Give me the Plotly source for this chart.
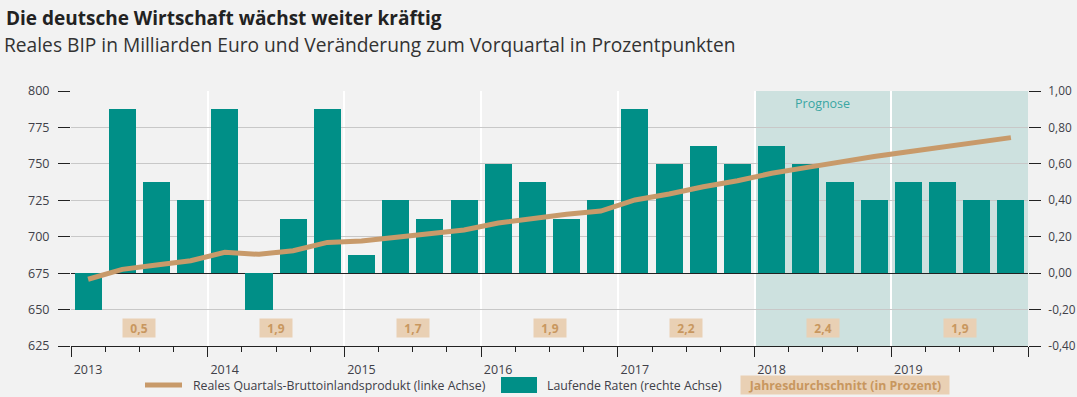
import plotly.graph_objects as go

years = [2013, 2014, 2015, 2016, 2017, 2018, 2019]
quarters = [y + (q - 0.5) / 4 for y in years for q in range(1, 5)]

# Laufende Raten (Veränderung zum Vorquartal, rechte Achse)
rates = [-0.2, 0.9, 0.5, 0.4,
         0.9, -0.2, 0.3, 0.9,
         0.1, 0.4, 0.3, 0.4,
         0.6, 0.5, 0.3, 0.4,
         0.9, 0.6, 0.7, 0.6,
         0.7, 0.6, 0.5, 0.4,
         0.5, 0.5, 0.4, 0.4]

# Reales Quartals-BIP (linke Achse)
gdp = [670.8, 677.6, 680.6, 683.5,
       689.3, 687.9, 690.4, 696.1,
       697.0, 699.3, 701.6, 704.6,
       709.4, 712.8, 715.4, 717.6,
       725.2, 729.3, 734.3, 738.4,
       743.5, 747.4, 751.5, 755.0,
       758.3, 761.6, 764.8, 768.0]

annual_avg = ["0,5", "1,9", "1,7", "1,9", "2,2", "2,4", "1,9"]

left_ticks = [625, 650, 675, 700, 725, 750, 775, 800]
right_ticks = [-0.4, -0.2, 0.0, 0.2, 0.4, 0.6, 0.8, 1.0]
right_labels = ["-0,40", "-0,20", "0,00", "0,20", "0,40", "0,60", "0,80", "1,00"]

TEAL = "#008f87"
TAN = "#c89a6a"
BOXBG = "#e9d0b4"
TXT = "#404048"
FONT = "Open Sans"

fig = go.Figure()

fig.add_trace(go.Bar(x=quarters, y=rates, yaxis="y", marker=dict(color=TEAL, line=dict(width=0)),
                     width=0.198, showlegend=False, hoverinfo="skip"))
fig.add_trace(go.Scatter(x=quarters, y=gdp, yaxis="y2", mode="lines",
                         line=dict(color=TAN, width=5, shape="linear"),
                         showlegend=False, hoverinfo="skip"))

# Forecast shading
fig.add_shape(type="rect", xref="x", yref="paper", x0=2018, x1=2020, y0=0, y1=1,
              fillcolor="#cde1df", line=dict(width=0), layer="below")
fig.add_annotation(x=2018.5, xref="x", y=1.0, yref="paper", yanchor="top", yshift=-2,
                   text="Prognose", showarrow=False, font=dict(family=FONT, size=12.5, color="#3aa6a3"))

# Annual averages
for yr, val in zip(years, annual_avg):
    fig.add_annotation(x=yr + 0.5, xref="x", y=-0.3, yref="y", text="<b>%s</b>" % val,
                       showarrow=False, bgcolor=BOXBG, font=dict(family=FONT, size=12, color="#c8975f"),
                       width=30, height=16, borderpad=1)

# Title / subtitle
fig.add_annotation(text="<b>Die deutsche Wirtschaft wächst weiter kräftig</b>", xref="paper", yref="paper",
                   x=-67 / 957, y=1 + (91 - 18) / 255, xanchor="left", yanchor="middle", showarrow=False,
                   font=dict(family=FONT, size=19, color="#222222"))
fig.add_annotation(text="Reales BIP in Milliarden Euro und Veränderung zum Vorquartal in Prozentpunkten",
                   xref="paper", yref="paper", x=-69 / 957, y=1 + (91 - 45) / 255,
                   xanchor="left", yanchor="middle", showarrow=False,
                   font=dict(family=FONT, size=19.2, color="#333333"))

# Custom legend
def px_x(p):
    return (p - 71) / 957

def px_y(p):
    return (346 - p) / 255

fig.add_shape(type="line", xref="paper", yref="paper", x0=px_x(145), x1=px_x(182), y0=px_y(385), y1=px_y(385),
              line=dict(color=TAN, width=5))
fig.add_annotation(text="Reales Quartals-Bruttoinlandsprodukt (linke Achse)", xref="paper", yref="paper",
                   x=px_x(191), y=px_y(385), xanchor="left", yanchor="middle", showarrow=False,
                   font=dict(family=FONT, size=12.3, color=TXT))
fig.add_shape(type="rect", xref="paper", yref="paper", x0=px_x(501), x1=px_x(537), y0=px_y(377), y1=px_y(393),
              fillcolor=TEAL, line=dict(width=0))
fig.add_annotation(text="Laufende Raten (rechte Achse)", xref="paper", yref="paper",
                   x=px_x(545), y=px_y(385), xanchor="left", yanchor="middle", showarrow=False,
                   font=dict(family=FONT, size=12.3, color=TXT))
fig.add_annotation(text="<b>Jahresdurchschnitt (in Prozent)</b>", xref="paper", yref="paper",
                   x=px_x(845), y=px_y(385), xanchor="center", yanchor="middle", showarrow=False,
                   bgcolor=BOXBG, width=206, height=16, borderpad=1,
                   font=dict(family=FONT, size=12.3, color="#c8975f"))

fig.update_layout(
    width=1077, height=397,
    margin=dict(l=71, r=49, t=91, b=51, autoexpand=False),
    paper_bgcolor="#f2f2f2", plot_bgcolor="#f2f2f2",
    bargap=0, showlegend=False,
    font=dict(family=FONT, size=12, color=TXT),
    xaxis=dict(range=[2013, 2020], tickvals=list(range(2013, 2021)),
               ticktext=[str(y) for y in years] + [""],
               ticks="outside", ticklen=10, tickcolor="#222", tickwidth=1.2,
               ticklabelshift=17, ticklabelstandoff=2, automargin=False,
               minor=dict(dtick=0.25, tick0=2013, ticks="outside", ticklen=5, tickcolor="#222", showgrid=False),
               showgrid=True, gridcolor="#ffffff", gridwidth=1.5,
               showline=True, linecolor="#222", linewidth=1.2, zeroline=False,
               tickfont=dict(family=FONT, size=12.5, color=TXT)),
    yaxis=dict(side="right", range=[-0.4, 1.0], tickvals=right_ticks, ticktext=right_labels,
               ticks="outside", ticklen=12, tickcolor="#222", tickwidth=1.2, ticklabelstandoff=5,
               automargin=False,
               showgrid=True, gridcolor="#c8c8c8", gridwidth=1,
               zeroline=True, zerolinecolor="#222", zerolinewidth=1.3, showline=False,
               tickfont=dict(family=FONT, size=11.8, color=TXT)),
    yaxis2=dict(side="left", overlaying="y", range=[625, 800], tickvals=left_ticks,
                ticks="outside", ticklen=12, tickcolor="#222", tickwidth=1.2, ticklabelstandoff=6,
                automargin=False,
                showgrid=False, zeroline=False, showline=False,
                tickfont=dict(family=FONT, size=12.5, color=TXT)),
)

fig.write_html("out.html", config={"displayModeBar": False},
               post_script="document.body.style.margin='0';document.body.style.overflow='hidden';")
